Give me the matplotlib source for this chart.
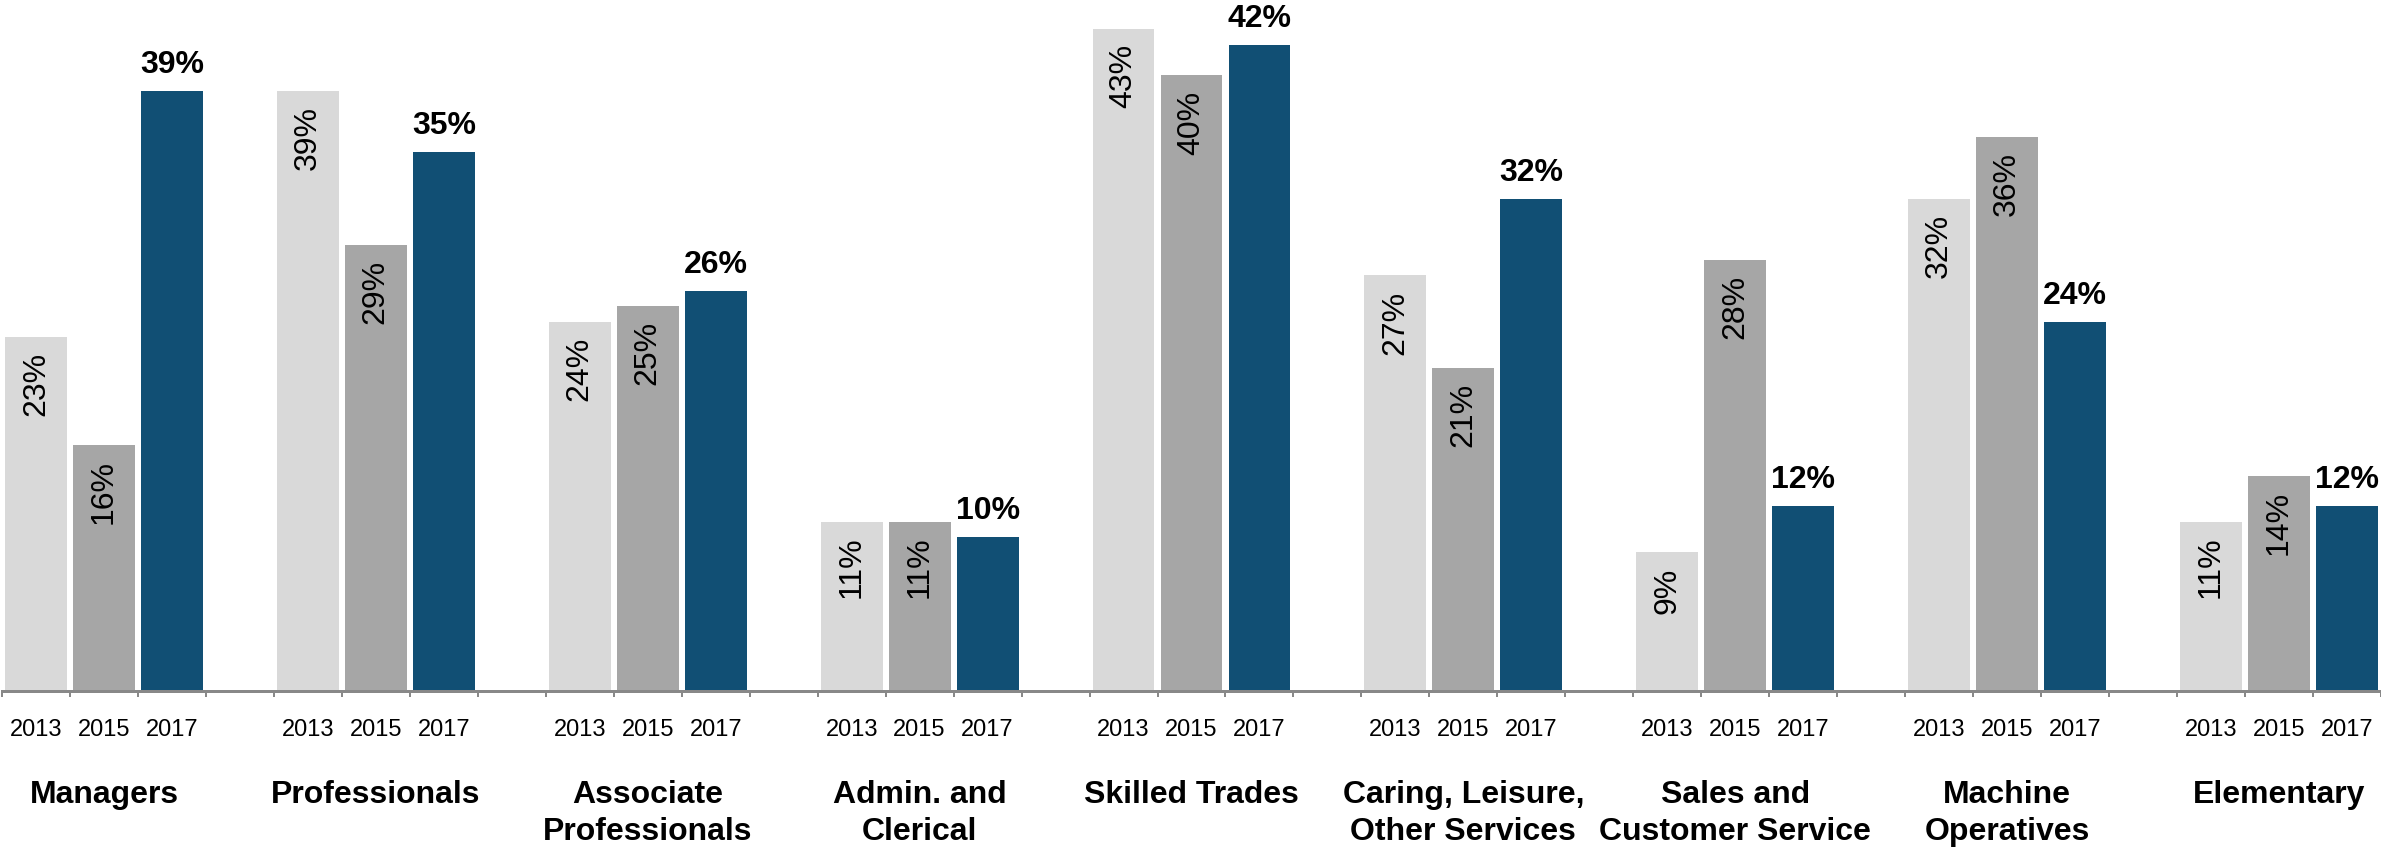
import matplotlib
matplotlib.use("Agg")
import matplotlib.pyplot as plt
import numpy as np

plt.rcParams['font.family'] = ['Liberation Sans', 'DejaVu Sans']

categories = ["Managers", "Professionals", "Associate\nProfessionals", "Admin. and\nClerical",
              "Skilled Trades", "Caring, Leisure,\nOther Services", "Sales and\nCustomer Service",
              "Machine\nOperatives", "Elementary"]
years = ["2013", "2015", "2017"]
v2013 = [23, 39, 24, 11, 43, 27, 9, 32, 11]
v2015 = [16, 29, 25, 11, 40, 21, 28, 36, 14]
v2017 = [39, 35, 26, 10, 42, 32, 12, 24, 12]

colors = ["#D9D9D9", "#A6A6A6", "#114F74"]
series = [v2013, v2015, v2017]

W, H, DPI = 2381, 847, 100
fig = plt.figure(figsize=(W / DPI, H / DPI), dpi=DPI)
ax = fig.add_axes([2 / W, (H - 691) / H, (W - 2) / W, 691 / H])

n = len(categories)
slot = 4  # three bars plus one empty slot per group
px = 72 / DPI  # points per pixel

for s, (vals, col) in enumerate(zip(series, colors)):
    xs = np.arange(n) * slot + s + 0.5
    ax.bar(xs, vals, width=0.91, color=col, edgecolor=col, linewidth=0)
    for x, v in zip(xs, vals):
        if s == 2:
            ax.annotate(f"{v}%", xy=(x, v), xytext=(0, 11 * px), textcoords="offset points",
                        ha="center", va="bottom", fontsize=23, fontweight="bold", color="black")
        else:
            ax.annotate(f"{v}%", xy=(x, v), xytext=(0, -15 * px), textcoords="offset points",
                        ha="center", va="top", rotation=90, fontsize=23, color="black")

# category names under each group
for g, name in enumerate(categories):
    ax.annotate(name, xy=(g * slot + 1.5, 0), xycoords=("data", "axes fraction"),
                xytext=(0, -89 * px), textcoords="offset points",
                ha="center", va="top", fontsize=23, fontweight="bold",
                linespacing=1.32)

ax.set_xlim(0, n * slot - 1)
ax.set_ylim(0, 44.9)

# boundary ticks between slots, year labels at bar centres
ax.set_xticks(np.arange(0, n * slot))
ax.set_xticklabels([])
minor = [g * slot + s + 0.5 for g in range(n) for s in range(3)]
ax.set_xticks(minor, minor=True)
ax.set_xticklabels(years * n, minor=True, fontsize=17)
ax.tick_params(axis="x", which="major", length=6 * px, width=2 * px, color="#888888", direction="out")
ax.tick_params(axis="x", which="minor", length=0, pad=20)
ax.set_yticks([])

for side in ["top", "right", "left"]:
    ax.spines[side].set_visible(False)
ax.spines["bottom"].set_color("#888888")
ax.spines["bottom"].set_linewidth(3 * px)

fig.savefig("out.png", dpi=DPI)
